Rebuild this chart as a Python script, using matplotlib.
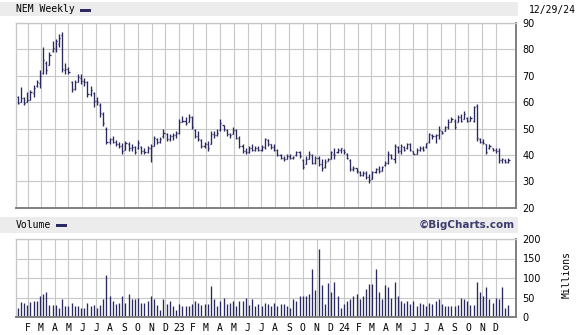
import datetime as dt
import matplotlib
matplotlib.use("Agg")
import matplotlib.pyplot as plt
import matplotlib.dates as mdates
from matplotlib.patches import Rectangle

W, H = 579, 335
navy = "#2a2a60"
grid_c = "#c8c8c8"
edge_c = "#808080"
band_c = "#ececec"

# weekly bars, week ending on Sunday
start = dt.date(2022, 1, 9)
weeks = [start + dt.timedelta(days=7 * k) for k in range(156)]

high = [
    62.5, 65.7, 62.0, 63.9, 64.6, 66.5, 68.4, 72.0, 80.8, 75.5,
    79.0, 83.3, 84.0, 85.8, 86.5, 75.0, 73.5, 68.0, 68.5, 70.5,
    70.5, 69.0, 68.0, 66.0, 63.7, 62.0, 59.5, 56.1, 50.4, 46.5,
    47.0, 45.5, 45.0, 44.5, 45.3, 45.0, 44.0, 43.5, 45.5, 43.4,
    42.5, 43.4, 44.0, 47.2, 46.6, 46.8, 49.7, 48.5, 48.0, 48.5,
    49.0, 53.5, 54.8, 54.5, 55.7, 54.8, 49.7, 49.1, 46.0, 45.0,
    45.3, 49.0, 49.0, 49.7, 53.5, 51.5, 49.7, 48.5, 50.4, 49.7,
    47.2, 44.0, 42.8, 43.4, 44.0, 43.4, 43.4, 43.8, 46.5, 46.0,
    44.1, 44.1, 42.2, 40.3, 39.6, 40.3, 40.3, 39.6, 41.5, 41.5,
    38.4, 39.6, 41.5, 40.3, 39.6, 39.6, 38.4, 38.4, 39.0, 41.5,
    42.8, 42.8, 42.8, 42.2, 40.9, 38.4, 35.8, 35.2, 33.9, 33.9,
    33.9, 32.7, 33.9, 35.2, 35.8, 35.8, 37.7, 41.5, 40.3, 44.1,
    43.4, 44.1, 43.4, 44.7, 44.7, 41.5, 42.8, 43.4, 43.4, 44.7,
    48.5, 48.0, 48.0, 51.0, 49.0, 51.0, 53.5, 54.2, 53.5, 55.0,
    55.4, 56.7, 54.2, 54.8, 58.6, 59.2, 46.6, 46.0, 44.1, 44.1,
    42.8, 42.8, 42.8, 39.0, 38.4, 39.0]
low = [
    59.2, 60.0, 58.8, 60.0, 60.8, 62.1, 65.9, 65.5, 70.5, 70.6,
    73.9, 79.0, 79.0, 81.0, 71.3, 70.6, 70.5, 63.7, 64.5, 67.5,
    67.0, 66.0, 61.8, 62.5, 58.0, 59.0, 54.5, 51.0, 44.1, 44.0,
    44.5, 43.5, 42.5, 40.2, 42.0, 41.5, 41.5, 40.2, 42.2, 40.5,
    40.3, 40.8, 37.3, 43.4, 44.0, 44.5, 46.6, 45.3, 45.3, 45.8,
    46.6, 47.8, 52.3, 51.5, 52.3, 49.7, 46.6, 45.3, 42.8, 42.8,
    41.5, 44.0, 46.6, 47.2, 49.1, 49.1, 47.2, 46.6, 47.8, 45.9,
    42.8, 40.9, 40.3, 40.9, 41.5, 41.5, 41.5, 41.5, 42.3, 43.4,
    42.2, 41.5, 39.6, 38.4, 37.7, 38.4, 38.4, 38.4, 39.6, 39.0,
    34.6, 36.5, 38.4, 36.5, 36.5, 35.8, 33.9, 35.2, 37.7, 38.4,
    38.4, 40.9, 40.9, 40.3, 38.4, 33.9, 33.9, 33.3, 32.0, 32.0,
    30.8, 29.5, 30.8, 33.3, 33.3, 33.9, 35.8, 36.5, 38.4, 37.1,
    40.9, 40.3, 41.5, 42.2, 41.5, 40.3, 40.3, 41.5, 41.5, 42.8,
    44.7, 46.0, 44.7, 46.0, 47.8, 49.1, 49.7, 52.3, 49.7, 52.3,
    52.3, 53.5, 52.3, 52.9, 52.3, 45.3, 44.7, 44.1, 40.3, 42.2,
    41.5, 40.9, 37.1, 37.1, 37.1, 37.1]
open_ = [
    61.8, 60.2, 61.5, 60.2, 61.0, 63.5, 66.0, 67.2, 71.0, 75.0,
    74.0, 79.5, 80.0, 82.0, 85.5, 72.0, 72.5, 67.5, 65.0, 67.8,
    69.0, 68.0, 67.5, 63.0, 63.5, 60.5, 59.0, 55.5, 50.0, 45.0,
    46.0, 45.0, 44.0, 43.5, 42.0, 44.0, 42.5, 43.0, 42.5, 43.0,
    41.5, 41.0, 42.5, 43.5, 46.0, 45.0, 47.0, 48.0, 46.0, 47.0,
    47.5, 48.5, 52.5, 53.0, 52.5, 54.5, 49.5, 47.0, 45.5, 43.5,
    44.0, 44.0, 48.0, 47.5, 49.5, 51.5, 49.5, 48.0, 48.0, 49.5,
    46.5, 43.5, 41.5, 41.0, 42.5, 42.0, 42.5, 42.0, 43.0, 45.5,
    44.0, 43.0, 42.0, 40.0, 39.0, 38.5, 39.5, 39.0, 39.8, 41.0,
    38.0, 36.5, 38.5, 40.0, 37.0, 39.0, 36.5, 35.5, 37.8, 38.5,
    40.5, 41.0, 42.0, 42.0, 40.5, 38.0, 34.5, 35.0, 33.5, 32.5,
    33.0, 31.5, 31.0, 33.5, 34.5, 34.0, 36.0, 37.0, 40.0, 38.5,
    43.0, 41.5, 43.0, 42.5, 44.0, 41.5, 40.5, 42.0, 42.5, 43.0,
    44.8, 47.5, 47.0, 47.5, 49.0, 49.2, 50.5, 52.5, 53.0, 52.5,
    54.5, 53.5, 54.0, 53.0, 53.0, 58.5, 46.0, 45.0, 44.0, 42.5,
    42.5, 42.0, 41.5, 38.0, 38.0, 37.5]
close = [
    59.8, 61.5, 59.8, 61.0, 63.8, 65.5, 67.5, 70.0, 76.0, 72.0,
    78.0, 80.5, 83.0, 84.5, 72.5, 72.5, 71.5, 65.0, 67.5, 69.5,
    68.0, 67.5, 63.0, 64.5, 60.5, 60.0, 56.0, 52.0, 45.0, 46.0,
    45.0, 44.0, 43.5, 41.5, 44.5, 42.5, 43.0, 41.0, 44.5, 41.5,
    41.0, 42.5, 43.5, 46.5, 45.0, 46.0, 48.5, 46.0, 47.0, 47.5,
    48.5, 52.5, 53.0, 52.0, 54.5, 50.5, 47.0, 46.0, 43.5, 44.0,
    42.5, 48.0, 47.5, 48.5, 52.0, 50.0, 48.0, 47.5, 49.5, 46.5,
    43.5, 41.5, 41.0, 42.5, 42.0, 42.5, 42.0, 43.0, 46.0, 44.0,
    43.0, 42.0, 40.0, 39.0, 38.5, 39.5, 39.0, 39.2, 41.0, 39.5,
    35.5, 38.5, 40.5, 37.0, 39.0, 36.5, 35.0, 37.5, 38.5, 41.0,
    40.0, 42.0, 42.5, 41.0, 39.0, 34.5, 35.0, 34.0, 32.5, 33.0,
    31.5, 30.5, 33.5, 34.5, 34.0, 35.5, 37.0, 40.5, 39.0, 43.5,
    41.5, 43.5, 42.0, 44.0, 42.0, 40.5, 42.0, 42.5, 42.0, 44.5,
    48.0, 47.0, 47.5, 49.5, 48.5, 50.5, 52.5, 53.5, 50.5, 54.5,
    53.0, 55.5, 53.0, 54.0, 58.0, 46.5, 45.0, 44.5, 41.0, 43.5,
    42.0, 41.5, 38.0, 38.5, 37.5, 38.0]
# millions of shares
volume = [
    23, 39, 36, 32, 39, 41, 42, 54, 60, 63,
    32, 32, 32, 22, 45, 29, 27, 37, 29, 29,
    22, 24, 37, 28, 32, 24, 32, 47, 107, 53,
    42, 34, 37, 53, 37, 60, 47, 46, 50, 37,
    37, 40, 53, 45, 32, 19, 47, 34, 42, 27,
    19, 34, 29, 27, 27, 34, 40, 37, 32, 34,
    34, 79, 45, 29, 40, 50, 34, 37, 42, 29,
    42, 42, 50, 32, 45, 29, 34, 27, 37, 34,
    29, 37, 29, 34, 34, 27, 24, 47, 40, 55,
    55, 55, 60, 122, 68, 174, 81, 34, 86, 63,
    91, 55, 24, 34, 42, 47, 53, 60, 47, 53,
    73, 84, 84, 122, 63, 45, 81, 78, 50, 89,
    53, 40, 37, 40, 34, 42, 29, 37, 34, 27,
    37, 34, 42, 45, 34, 29, 27, 29, 27, 32,
    50, 45, 40, 32, 32, 91, 63, 55, 76, 45,
    37, 50, 45, 76, 24, 32]

month_labels = ["F", "M", "A", "M", "J", "J", "A", "S", "O", "N", "D",
                "23", "F", "M", "A", "M", "J", "J", "A", "S", "O", "N", "D",
                "24", "F", "M", "A", "M", "J", "J", "A", "S", "O", "N", "D"]
price_ticks = [20, 30, 40, 50, 60, 70, 80, 90]
vol_ticks = [0, 50, 100, 150, 200]


def fx(px):
    return px / W


def fy(py):
    return 1 - py / H


months = []
y, m = 2022, 2
for lab in month_labels:
    months.append(dt.date(y, m, 1))
    m += 1
    if m > 12:
        m, y = 1, y + 1
mnum = mdates.date2num(months)
d = mdates.date2num(weeks)
xlim = (mdates.date2num(dt.date(2022, 1, 5)), mdates.date2num(dt.date(2025, 1, 14)))

fig = plt.figure(figsize=(W / 100, H / 100), dpi=100)
fig.patch.set_facecolor("white")

for y0, y1 in [(1.7, 15.7), (217, 233)]:
    fig.patches.append(Rectangle((0, fy(y1)), fx(518), (y1 - y0) / H,
                                 transform=fig.transFigure, facecolor=band_c,
                                 edgecolor="none", zorder=0))

ax = fig.add_axes([fx(16), fy(207.7), fx(499.7), 184.7 / H])
axv = fig.add_axes([fx(16), fy(317), fx(499.7), 78 / H])

for a, yl, yt in [(ax, (20, 90), price_ticks), (axv, (0, 200), vol_ticks)]:
    a.set_xlim(xlim)
    a.set_ylim(yl)
    a.set_yticks(yt)
    a.set_xticks(mnum)
    a.yaxis.tick_right()
    a.tick_params(axis="y", length=0, pad=5, labelsize=7)
    a.tick_params(axis="x", length=0)
    a.grid(True, color=grid_c, lw=0.8)
    a.set_axisbelow(True)
    for s in ("top", "left"):
        a.spines[s].set_color(grid_c)
        a.spines[s].set_linewidth(1.0)
    for s in ("right", "bottom"):
        a.spines[s].set_color(edge_c)
        a.spines[s].set_linewidth(1.4)

ax.set_xticklabels([])
axv.set_xticklabels(month_labels, family="DejaVu Sans Mono", fontsize=7)
axv.tick_params(axis="x", pad=4)

# OHLC bars
ax.vlines(d, low, high, color=navy, lw=0.95)
ax.hlines(open_, d - 2.4, d, color=navy, lw=0.95)
ax.hlines(close, d, d + 2.4, color=navy, lw=0.95)

axv.vlines(d, 0, volume, color=navy, lw=0.95)

fig.text(fx(16), fy(9.5), "NEM Weekly", family="DejaVu Sans Mono", fontsize=7,
         ha="left", va="center")
fig.patches.append(Rectangle((fx(80), fy(11.7)), fx(10.7), 2.7 / H,
                             transform=fig.transFigure, facecolor=navy, edgecolor="none"))
fig.text(fx(576), fy(9.5), "12/29/24", family="DejaVu Sans Mono", fontsize=7,
         ha="right", va="center")
fig.text(fx(16), fy(225), "Volume", family="DejaVu Sans Mono", fontsize=7,
         ha="left", va="center")
fig.patches.append(Rectangle((fx(56), fy(226.7)), fx(10.7), 2.7 / H,
                             transform=fig.transFigure, facecolor=navy, edgecolor="none"))
fig.text(fx(515), fy(225), "\u00a9BigCharts.com", fontsize=7.5, weight="bold",
         color="#3c3c6e", ha="right", va="center")
fig.text(fx(567), fy(275), "Millions", family="DejaVu Sans Mono", fontsize=7,
         rotation=90, ha="center", va="center")

fig.savefig("out.png", dpi=100)
